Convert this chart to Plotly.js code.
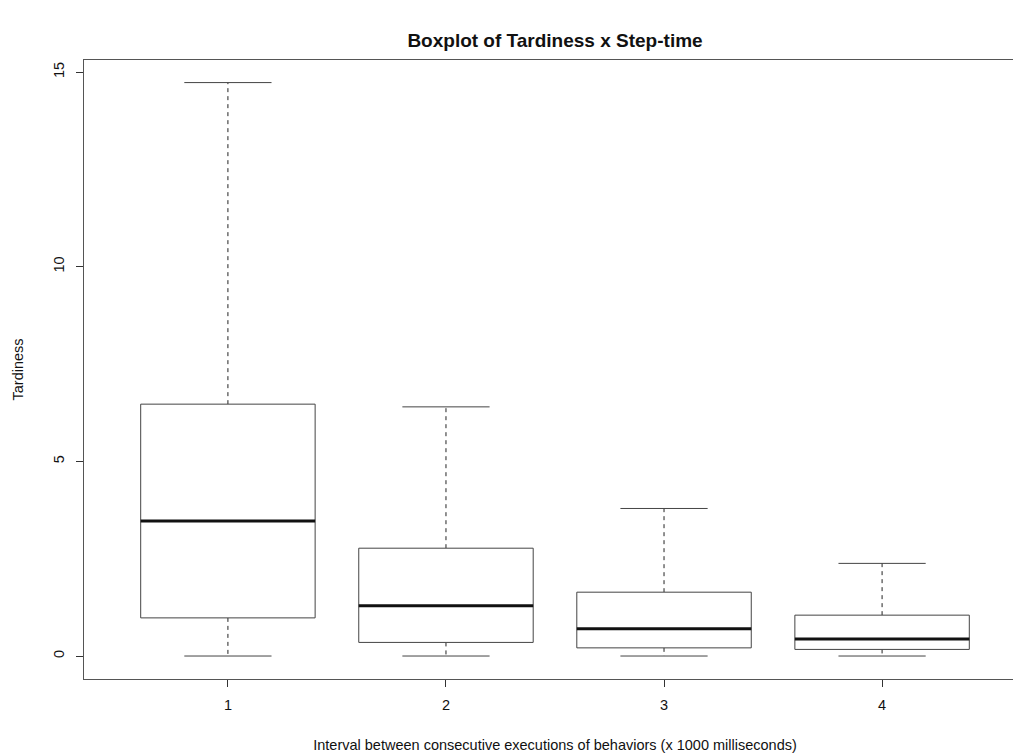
<!DOCTYPE html>
<html>
<head>
<meta charset="utf-8">
<script src="https://cdn.plot.ly/plotly-3.0.1.min.js"></script>
<style>
html, body { margin:0; padding:0; background:#fff; overflow:hidden; width:1013px; height:753px; }
#chart { width:1040px; height:753px; }
</style>
</head>
<body>
<div id="chart"></div>
<script>
// Data
const groups = [1, 2, 3, 4];
const tickLabels = ['1', '2', '3', '4'];
const lowerWhisker = [0, 0, 0, 0];
const q1 = [0.98, 0.35, 0.21, 0.17];
const median = [3.47, 1.29, 0.70, 0.44];
const q3 = [6.47, 2.77, 1.64, 1.05];
const upperWhisker = [14.73, 6.40, 3.79, 2.38];
const yTicks = [0, 5, 10, 15];

const boxHalf = 0.4, capHalf = 0.2;
const traces = [];
groups.forEach((g, i) => {
  // dashed whiskers
  traces.push({x:[g, g, null, g, g], y:[q3[i], upperWhisker[i], null, q1[i], lowerWhisker[i]],
    mode:'lines', line:{color:'#222', width:1, dash:'4px,4px'}, hoverinfo:'skip', showlegend:false});
  // caps
  traces.push({x:[g-capHalf, g+capHalf, null, g-capHalf, g+capHalf],
    y:[upperWhisker[i], upperWhisker[i], null, lowerWhisker[i], lowerWhisker[i]],
    mode:'lines', line:{color:'#444', width:1}, hoverinfo:'skip', showlegend:false});
  // box
  traces.push({x:[g-boxHalf, g+boxHalf, g+boxHalf, g-boxHalf, g-boxHalf],
    y:[q1[i], q1[i], q3[i], q3[i], q1[i]], mode:'lines', fill:'toself', fillcolor:'#fff',
    line:{color:'#444', width:1}, hoverinfo:'skip', showlegend:false});
  // median
  traces.push({x:[g-boxHalf, g+boxHalf], y:[median[i], median[i]], mode:'lines',
    line:{color:'#111', width:3}, hoverinfo:'skip', showlegend:false});
});

const layout = {
  width:1040, height:753,
  margin:{l:84, r:14, t:60, b:74},
  paper_bgcolor:'#fff', plot_bgcolor:'#fff',
  font:{family:'Liberation Sans, Arial, sans-serif', size:14.5, color:'#111'},
  title:{text:'<b>Boxplot of Tardiness x Step-time</b>', font:{size:19, color:'#111'},
    x:0.5, xref:'paper', y:1-40/753, yref:'container', yanchor:'middle'},
  xaxis:{range:[0.34, 4.66], tickvals:groups, ticktext:tickLabels, ticks:'outside', ticklen:7,
    tickcolor:'#333', showgrid:false, zeroline:false, showline:true, linecolor:'#555', linewidth:1,
    mirror:true, ticklabelstandoff:6,
    title:{text:'Interval between consecutive executions of behaviors (x 1000 milliseconds)',
      font:{size:14.5}, standoff:28}},
  yaxis:{range:[-0.59, 15.31], tickvals:yTicks, ticktext:yTicks.map(String), ticks:'outside',
    ticklen:7, tickcolor:'#333', tickangle:-90, showgrid:false, zeroline:false, showline:true,
    linecolor:'#555', linewidth:1, mirror:true, ticklabelstandoff:6,
    title:{text:'Tardiness', font:{size:14.5}, standoff:24}}
};
Plotly.newPlot('chart', traces, layout, {displayModeBar:false, staticPlot:true});
</script>
</body>
</html>
